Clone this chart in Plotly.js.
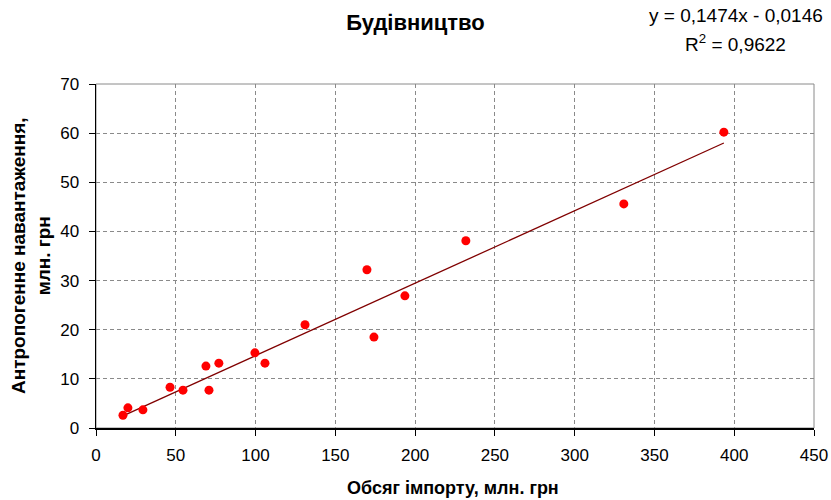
<!DOCTYPE html>
<html>
<head>
<meta charset="utf-8">
<script src="https://cdn.plot.ly/plotly-3.0.1.min.js"></script>
<style>html,body{margin:0;padding:0;background:#fff;}#chart{width:831px;height:500px;}</style>
</head>
<body>
<div id="chart"></div>
<script>
const importVolume = [16.9, 20.0, 29.4, 46.4, 54.5, 68.9, 70.8, 77.0, 99.6, 105.9, 131.0, 169.8, 174.2, 193.6, 231.8, 330.8, 393.5];
const anthropogenicLoad = [2.6, 4.1, 3.7, 8.3, 7.7, 12.6, 7.7, 13.2, 15.3, 13.2, 21.0, 32.2, 18.5, 26.9, 38.1, 45.6, 60.2];
const trendSlope = 0.1474;
const trendIntercept = -0.0146;
const xTicks = [0, 50, 100, 150, 200, 250, 300, 350, 400, 450];
const yTicks = [0, 10, 20, 30, 40, 50, 60, 70];

const xMin = Math.min(...importVolume), xMax = Math.max(...importVolume);
const trendX = [xMin, xMax];
const trendY = trendX.map(x => trendSlope * x + trendIntercept);

const font = 'Liberation Sans, Arial, sans-serif';
const data = [
  {x: trendX, y: trendY, mode: 'lines', line: {color: '#800000', width: 1.3}, hoverinfo: 'skip', showlegend: false},
  {x: importVolume, y: anthropogenicLoad, mode: 'markers', marker: {color: '#FF0000', size: 9}, showlegend: false}
];
const axisCommon = {
  showgrid: true, gridcolor: '#8a8a8a', griddash: '4px,3px', gridwidth: 1,
  showline: true, linecolor: '#000', linewidth: 1.5, zeroline: false,
  ticks: 'outside', ticklen: 6, tickcolor: '#000', tickwidth: 1,
  tickfont: {family: font, size: 17, color: '#000'}
};
const layout = {
  width: 831, height: 500,
  margin: {l: 96, r: 17, t: 84, b: 72},
  paper_bgcolor: '#fff', plot_bgcolor: '#fff',
  font: {family: font, size: 17, color: '#000'},
  title: {text: '<b>Будівництво</b>', x: 0.5, xref: 'container', xanchor: 'center', y: 0.956, yref: 'container', yanchor: 'middle', font: {family: font, size: 22, color: '#000'}},
  xaxis: Object.assign({range: [0, 450], tickvals: xTicks, ticktext: xTicks.map(String), ticklabelstandoff: 5}, axisCommon),
  yaxis: Object.assign({range: [0, 70], tickvals: yTicks, ticktext: yTicks.map(String), ticklabelstandoff: 6}, axisCommon),
  shapes: [
    {type: 'rect', xref: 'paper', yref: 'paper', x0: 0, x1: 1, y0: 0, y1: 1, line: {color: '#8a8a8a', width: 1}, layer: 'below'}
  ],
  annotations: [
    {text: '<b>Обсяг імпорту, млн. грн</b>', xref: 'paper', yref: 'paper', x: 0.497, y: -0.174, xanchor: 'center', yanchor: 'middle', showarrow: false, font: {family: font, size: 18}},
    {text: '<b>Антропогенне навантаження,<br>млн. грн</b>', xref: 'paper', yref: 'paper', x: -0.0905, y: 0.5, xanchor: 'center', yanchor: 'middle', textangle: -90, showarrow: false, font: {family: font, size: 19}},
    {text: 'y = 0,1474x - 0,0146', xref: 'paper', yref: 'paper', x: 0.891, y: 1.198, xanchor: 'center', yanchor: 'middle', showarrow: false, font: {family: font, size: 19}},
    {text: 'R<sup>2</sup> = 0,9622', xref: 'paper', yref: 'paper', x: 0.891, y: 1.118, xanchor: 'center', yanchor: 'middle', showarrow: false, font: {family: font, size: 19}}
  ]
};
Plotly.newPlot('chart', data, layout, {displayModeBar: false, staticPlot: true});
</script>
</body>
</html>
